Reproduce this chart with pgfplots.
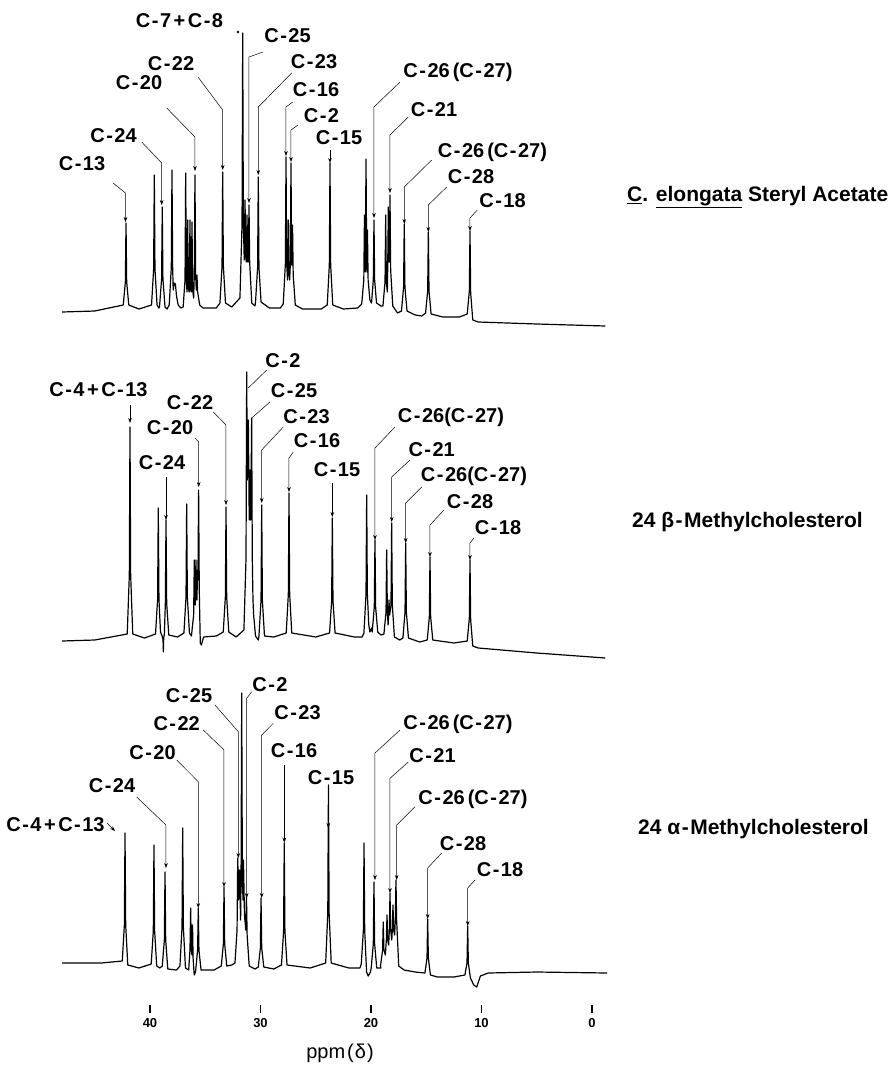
\documentclass[border=0pt]{standalone}
\usepackage{fontspec}
\setmainfont{Liberation Sans}
\usepackage{pgfplots}
\pgfplotsset{compat=1.18}
\usetikzlibrary{arrows.meta}
\tikzset{
  lf/.style={font=\bfseries\fontsize{20}{22}\selectfont, inner sep=0pt},
  ld/.style={line width=0.5pt, black},
}
\newcommand{\hy}{\kern1.5pt-\kern1.5pt}
\newcommand{\pl}{\kern2.5pt+\kern2.5pt}
\newcommand{\lab}[3]{\node[lf] at (axis cs:{(592-#1)/11.05},#2) {#3};}
\newcommand{\ldr}[5]{\draw[ld,-{Stealth[length=5pt,width=3.6pt]}] (axis cs:{(592-#1)/11.05},#2) -- (axis cs:{(592-#3)/11.05},#4) -- (axis cs:{(592-#3)/11.05},#5);}
\newcommand{\ldv}[3]{\draw[ld,-{Stealth[length=5pt,width=3.6pt]}] (axis cs:{(592-#1)/11.05},#2) -- (axis cs:{(592-#1)/11.05},#3);}
\newcommand{\ldn}[4]{\draw[ld] (axis cs:{(592-#1)/11.05},#2) -- (axis cs:{(592-#3)/11.05},#4);}
\begin{document}
\begin{tikzpicture}
\begin{axis}[
  scale only axis, width=888pt, height=1009pt,
  xmin=-26.787, xmax=53.575, ymin=0, ymax=1009,
  x dir=reverse, y dir=reverse,
  axis line style={draw=none},
  ytick=\empty,
  xtick={40,30,20,10,0},
  xtick pos=left,
  tick align=center,
  major tick length=8pt,
  every tick/.style={draw=black, line width=1.2pt},
  xticklabel style={font=\bfseries\fontsize{13}{15}\selectfont, yshift=-2pt},
  /pgf/number format/assume math mode=true,
  clip=false,
]
% ---------------- top spectrum: C. elongata steryl acetate
\addplot[black, line width=1.2pt, line join=round] coordinates {
(47.96,312) (45.0,311) (42.42,305) (42.23,282) (42.17,223) (42.11,282) (41.92,305) (41.0,309)
(39.86,305) (39.67,269) (39.61,175) (39.55,269) (39.36,305) (39.2,308)
(39.14,307) (38.95,279) (38.89,207) (38.83,279) (38.64,307) (38.45,309)
(38.26,305) (38.07,267) (38.01,170) (37.95,267) (37.90,290) (37.80,283) (37.70,284) (37.6,296) (37.45,305) (37.2,308)
(37.0,307) (36.83,280) (36.77,173) (36.71,280) (36.65,292) (36.59,220) (36.53,288) (36.45,292) (36.38,220) (36.32,290)
(36.26,292) (36.20,222) (36.14,290) (36.05,298) (35.99,275) (35.93,175) (35.87,275) (35.81,290) (35.75,275) (35.69,292) (35.5,305) (35.2,308)
(34.0,308) (33.67,303) (33.48,266) (33.42,172) (33.36,266) (33.17,303) (32.6,307)
(31.86,298) (31.67,224) (31.61,33) (31.55,224) (31.47,260) (31.40,200) (31.33,258) (31.28,262) (31.22,215) (31.16,262)
(31.10,262) (31.04,205) (30.98,262) (30.79,303) (30.5,306)
(30.45,302) (30.26,267) (30.20,177) (30.14,267) (29.95,302) (29.2,308) (28.2,308)
(27.94,304) (27.75,264) (27.69,157) (27.63,264) (27.55,280) (27.48,220) (27.42,275) (27.36,280) (27.30,264) (27.24,163)
(27.18,265) (27.10,225) (27.04,275) (26.85,305) (26.2,309) (24.5,309)
(23.96,305) (23.77,265) (23.71,163) (23.65,265) (23.46,305) (22.5,309) (21.2,308)
(20.84,304) (20.65,280) (20.59,215) (20.53,272) (20.51,262) (20.45,159) (20.39,262) (20.37,272) (20.32,230) (20.26,280) (20.1,300)
(19.95,303) (19.79,280) (19.73,220) (19.67,280) (19.5,303) (19.1,306)
(18.92,306) (18.73,282) (18.67,215) (18.61,282) (18.52,292) (18.49,270) (18.43,207) (18.37,262) (18.34,262) (18.28,195)
(18.22,270) (18.03,306) (17.6,313)
(17.24,311) (17.05,287) (16.99,224) (16.93,287) (16.74,311) (16.0,315) (15.4,316)
(15.06,313) (14.87,291) (14.81,232) (14.75,291) (14.56,314) (13.5,317) (12.0,317)
(11.29,314) (11.10,291) (11.04,231) (10.98,293) (10.79,320) (10.3,322) (5.0,324) (-1.2,326)
};
% ---------------- middle spectrum: 24 beta-methylcholesterol
\addplot[black, line width=1.2pt, line join=round] coordinates {
(47.96,641) (45.0,640) (42.06,634) (41.87,575) (41.81,427) (41.75,575) (41.56,634) (40.5,638)
(39.50,634) (39.31,599) (39.25,508) (39.19,599) (39.05,632)
(38.9,636) (38.82,640) (38.79,652) (38.76,638) (38.70,634) (38.61,603) (38.55,520) (38.49,603) (38.30,635) (37.5,637)
(36.93,633) (36.74,597) (36.68,504) (36.62,597) (36.43,633)
(36.25,636) (36.05,615) (35.99,560) (35.93,600) (35.90,605) (35.84,560) (35.78,600) (35.75,600) (35.70,570) (35.66,580)
(35.60,490) (35.54,590) (35.45,643) (35.35,645) (35.15,637) (34.0,636)
(33.37,632) (33.18,597) (33.12,507) (33.06,597) (32.87,632) (32.2,637)
(31.50,630) (31.31,558) (31.25,372) (31.19,480) (31.10,420) (31.02,520) (30.95,470) (30.88,520) (30.80,418) (30.74,560)
(30.68,600) (30.62,615) (30.45,636) (30.2,640)
(30.14,636) (29.95,600) (29.89,505) (29.83,600) (29.64,636) (28.8,637)
(27.67,633) (27.48,594) (27.42,493) (27.36,594) (27.17,633) (25.0,637)
(23.75,633) (23.56,601) (23.50,518) (23.44,601) (23.25,633) (21.5,637) (20.8,637)
(20.64,633) (20.45,594) (20.39,495) (20.33,594) (20.2,625) (20.1,632) (19.95,628)
(19.89,632) (19.70,607) (19.64,540) (19.58,607) (19.39,632) (19.1,635)
(18.83,634) (18.64,612) (18.58,550) (18.52,612) (18.45,625) (18.40,612) (18.37,600) (18.31,615) (18.19,605) (18.13,523)
(18.07,605) (17.88,637) (17.4,640)
(17.11,638) (16.92,612) (16.86,543) (16.80,612) (16.61,638) (15.6,642)
(14.91,640) (14.72,617) (14.66,557) (14.60,617) (14.41,640) (12.5,643)
(11.29,641) (11.10,618) (11.04,560) (10.98,620) (10.79,646) (10.3,648) (5.0,653) (-1.2,658)
};
% ---------------- bottom spectrum: 24 alpha-methylcholesterol
\addplot[black, line width=1.2pt, line join=round] coordinates {
(47.96,963) (44.4,963) (42.51,961) (42.32,925) (42.26,833) (42.20,925) (42.01,965) (41.0,968)
(39.89,964) (39.70,931) (39.64,845) (39.58,931) (39.39,966) (39.1,968)
(38.89,966) (38.70,940) (38.64,872) (38.58,940) (38.39,969) (37.6,970)
(37.29,966) (37.10,927) (37.04,828) (36.98,927) (36.79,968)
(36.5,970) (36.38,950) (36.32,908) (36.26,950) (36.20,955) (36.15,925) (36.10,958) (36.0,975) (35.88,972) (35.69,950)
(35.63,908) (35.57,950) (35.38,970) (34.2,970)
(33.55,966) (33.36,944) (33.30,887) (33.24,944) (33.05,966) (32.6,965)
(32.31,963) (32.12,930) (32.06,858) (31.98,900) (31.90,870) (31.80,920) (31.76,880) (31.70,693) (31.64,880) (31.58,900)
(31.54,860) (31.45,915) (31.33,930) (31.27,895) (31.21,935) (31.02,966) (30.5,969)
(30.20,967) (30.01,948) (29.95,898) (29.89,948) (29.70,967) (28.8,969)
(28.10,965) (27.91,931) (27.85,843) (27.79,931) (27.60,965) (25.5,968)
(24.10,963) (23.91,913) (23.85,785) (23.79,913) (23.60,963) (22.0,968) (21.0,968)
(20.88,964) (20.69,930) (20.63,843) (20.57,930) (20.40,972) (20.25,976) (20.05,972)
(19.98,968) (19.79,944) (19.73,882) (19.67,944) (19.48,968) (19.1,968)
(19.14,966) (18.95,950) (18.89,922) (18.83,950) (18.70,955) (18.61,940) (18.55,915) (18.49,940) (18.40,945) (18.34,930)
(18.28,893) (18.22,930) (18.12,940) (18.07,930) (18.01,905) (17.95,930) (17.86,935) (17.80,920) (17.74,880) (17.68,920)
(17.49,966) (17.0,970) (16.0,972)
(15.12,973) (14.93,958) (14.87,919) (14.81,958) (14.62,975) (14.0,977) (12.5,977)
(11.50,975) (11.31,963) (11.25,926) (11.19,963) (11.0,978) (10.7,985) (10.43,987) (10.1,976) (9.4,973) (5.0,972) (-1.36,973)
};
% ---------------- labels, top
\lab{179.5}{21}{C\hy7\pl C\hy8}
\fill (axis cs:{(592-238)/11.05},32) circle (1.3pt);
\lab{287.5}{36}{C\hy25}  \ldr{263}{52}{249}{57}{203}
\lab{171}{64}{C\hy22}    \ldr{198}{77}{222.7}{110}{170}
\lab{314}{62}{C\hy23}    \ldr{291.7}{73}{258.3}{107}{175}
\lab{139}{83}{C\hy20}    \ldr{166.7}{108}{195}{137}{171}
\lab{316}{90}{C\hy16}    \ldr{292.7}{102}{286}{107}{156}
\lab{321.5}{116}{C\hy2}  \ldr{298}{125}{291}{130}{162}
\lab{339}{138}{C\hy15}   \ldv{330}{150}{163}
\lab{113.5}{136}{C\hy24} \ldr{141.7}{142}{161.7}{163}{205}
\lab{82}{164}{C\hy13}    \ldr{113}{183}{125.5}{193}{222}
\lab{458}{72}{C\hy26\kern3pt(C\hy27)}  \ldr{400}{82}{374}{107}{218}
\lab{434}{110}{C\hy21}   \ldr{408.3}{117}{390}{135}{193}
\lab{492.5}{152}{C\hy26\kern3pt(C\hy27)} \ldr{431.7}{160}{404.3}{187}{224}
\lab{471}{177}{C\hy28}   \ldr{446.7}{187}{428.3}{205}{232}
\lab{502.5}{201}{C\hy18} \ldr{477.3}{210}{470}{218}{231}
% ---------------- labels, middle
\lab{98.5}{390}{C\hy4\pl C\hy13} \ldv{130}{405}{423}
\lab{283}{361}{C\hy2}    \ldn{266.7}{370}{248.3}{388}
\lab{294}{391}{C\hy25}   \ldn{270}{402}{251.7}{418}
\lab{190}{403}{C\hy22}   \ldr{213.3}{412}{226}{425}{505}
\lab{306.5}{416.5}{C\hy23} \ldr{283.3}{427}{261.7}{450}{503}
\lab{170}{428}{C\hy20}   \ldr{195}{438}{198.7}{442}{487}
\lab{317}{441}{C\hy16}   \ldr{293.3}{452}{289}{458}{492}
\lab{162}{462.5}{C\hy24} \ldv{166}{477}{520}
\lab{337}{469.5}{C\hy15} \ldv{332.3}{483}{517}
\lab{451}{417}{C\hy26(C\hy27)} \ldr{395}{427}{375}{448}{540}
\lab{431.7}{450}{C\hy21} \ldr{410}{460}{391.7}{477}{522}
\lab{474}{476}{C\hy26(C\hy27)} \ldr{421.7}{487}{405.7}{503}{543}
\lab{470}{502}{C\hy28}   \ldr{444}{510}{430}{525}{557}
\lab{498}{527.5}{C\hy18} \ldr{474}{538}{470}{543}{560}
% ---------------- labels, bottom
\lab{55.5}{824.5}{C\hy4\pl C\hy13}
\draw[ld,-{Stealth[length=5pt,width=3.6pt]}] (axis cs:{(592-107)/11.05},823) -- (axis cs:{(592-115)/11.05},831);
\lab{112}{786}{C\hy24}   \ldr{136.7}{797}{166}{825}{868}
\lab{152.5}{752.5}{C\hy20} \ldr{176.7}{760}{198.3}{781.7}{908}
\lab{176.7}{723.5}{C\hy22} \ldr{203.3}{730}{224}{750}{887}
\lab{189}{695.5}{C\hy25} \ldr{215}{705}{238.3}{731.7}{858}
\lab{270}{684.5}{C\hy2}  \ldr{251.7}{691.7}{246.7}{698.3}{898}
\lab{297.5}{712.5}{C\hy23} \ldr{273.3}{723.3}{261.7}{735}{898}
\lab{294}{750.5}{C\hy16} \ldv{284.3}{765}{842.7}
\lab{331}{777.5}{C\hy15} \ldv{328.3}{790}{828}
\lab{458}{724}{C\hy26\kern3pt(C\hy27)} \ldr{400}{730}{375}{753}{880}
\lab{432.5}{755.5}{C\hy21} \ldr{408.3}{762}{390}{778.3}{893}
\lab{473}{799}{C\hy26\kern3pt(C\hy27)} \ldr{415}{806.7}{396.7}{825}{880}
\lab{463}{843.5}{C\hy28} \ldr{441.7}{853}{427.7}{868}{919}
\lab{500}{870}{C\hy18}   \ldr{475}{880}{467.7}{888}{926}
% ---------------- compound names
\node[anchor=west, inner sep=0pt, font=\bfseries\fontsize{21}{23}\selectfont] at (axis cs:{(592-627)/11.05},197) {\underline{C}. \underline{elongata} Steryl Acetate};
\node[anchor=west, inner sep=0pt, font=\bfseries\fontsize{21}{23}\selectfont] at (axis cs:{(592-632)/11.05},522) {24 β\hy Methylcholesterol};
\node[anchor=west, inner sep=0pt, font=\bfseries\fontsize{21}{23}\selectfont] at (axis cs:{(592-638)/11.05},829) {24 α\hy Methylcholesterol};
% ---------------- axis title
\node[font=\fontsize{20}{22}\selectfont, inner sep=0pt] at (axis cs:{(592-340)/11.05},1053) {ppm\kern2pt(\kern1pt δ\kern1pt)};
\coordinate (bl) at (axis cs:53.575,1068);
\coordinate (tr) at (axis cs:-26.787,0);
\end{axis}
\pgfresetboundingbox
\path[use as bounding box] (bl) rectangle (tr);
\end{tikzpicture}
\end{document}
